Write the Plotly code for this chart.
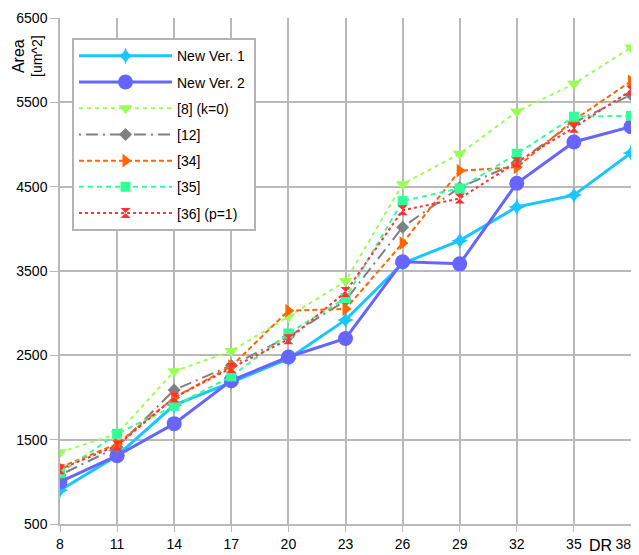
import plotly.graph_objects as go

dr = [8, 11, 14, 17, 20, 23, 26, 29, 32, 35, 38]
dr_labels = ["8", "11", "14", "17", "20", "23", "26", "29", "32", "35", "38"]

new_ver1 = [900, 1310, 1910, 2180, 2460, 2920, 3590, 3860, 4260, 4400, 4900]
new_ver2 = [1000, 1310, 1690, 2200, 2480, 2700, 3610, 3585, 4540, 5030, 5210]
ref8 = [1350, 1570, 2310, 2550, 2960, 3380, 4530, 4890, 5390, 5720, 6150]
ref12 = [1080, 1410, 2090, 2380, 2720, 3150, 4020, 4490, 4780, 5260, 5590]
ref34 = [1170, 1450, 2000, 2370, 3030, 3050, 3830, 4690, 4730, 5290, 5750]
ref35 = [1105, 1570, 1900, 2250, 2760, 3180, 4330, 4480, 4890, 5330, 5340]
ref36 = [1150, 1430, 2000, 2350, 2690, 3250, 4220, 4360, 4790, 5200, 5640]

names = ["New Ver. 1", "New Ver. 2", "[8] (k=0)", "[12]", "[34]", "[35]", "[36] (p=1)"]
series = [new_ver1, new_ver2, ref8, ref12, ref34, ref35, ref36]
colors = ["#1ac6ff", "#6666ff", "#99ff55", "#808080", "#ff6600", "#33ff99", "#ff3333"]
symbols = ["star-diamond", "circle", "triangle-down", "diamond", "triangle-right", "square", "hourglass"]
msizes = [12, 15, 12, 10, 12, 10, 10]
widths = [3, 3, 2, 2, 2, 2, 2]
dashes = ["solid", "solid", "4px,4px", "2px,5px,12px,5px", "5px,3px", "5px,4px", "3px,3px"]

fig = go.Figure()
for i, (nm, ys) in enumerate(zip(names, series)):
    fig.add_trace(go.Scatter(
        x=dr, y=ys, name=nm + "\u00a0", mode="lines+markers",
        legendgroup="g%d" % i,
        line=dict(color=colors[i], width=widths[i], dash=dashes[i]),
        marker=dict(symbol=symbols[i], size=msizes[i], color=colors[i], line=dict(width=0)),
    ))

# keep the last tick label inside the visible window
tick_text = dr_labels[:-1] + [dr_labels[-1] + "\u00a0" * 4]

grid = "#b9b9b9"
# the page body adds an 8px offset, so the figure is sized to fit the window
fig.update_layout(
    width=631, height=547,
    margin=dict(l=52, r=8, t=10, b=31, autoexpand=False),
    paper_bgcolor="white", plot_bgcolor="white",
    font=dict(family="Liberation Sans, Arial, sans-serif", size=14, color="#000000"),
    showlegend=True,
    legend=dict(
        x=0.021, y=0.96, xanchor="left", yanchor="top",
        bgcolor="white", bordercolor="#b3b3b3", borderwidth=2,
        font=dict(size=14), tracegroupgap=5, traceorder="grouped",
        itemwidth=93,
    ),
    xaxis=dict(
        range=[8, 38], tickmode="array", tickvals=dr, ticktext=tick_text,
        showgrid=True, gridcolor=grid, gridwidth=1.5,
        showline=True, linecolor=grid, linewidth=1.5,
        ticks="outside", ticklen=6, tickcolor=grid, zeroline=False,
        automargin=False, ticklabeloverflow="allow",
    ),
    yaxis=dict(
        range=[500, 6500], tickvals=[500, 1500, 2500, 3500, 4500, 5500, 6500],
        showgrid=True, gridcolor=grid, gridwidth=1.5,
        showline=True, linecolor=grid, linewidth=1.5,
        ticks="outside", ticklen=8, tickcolor=grid, zeroline=False,
        automargin=False, ticklabeloverflow="allow",
    ),
    annotations=[
        dict(text="<span style='font-size:16px'>Area</span><br>[um^2]", textangle=-90,
             xref="paper", yref="paper", x=-0.056, y=0.925, xanchor="center", yanchor="middle",
             showarrow=False, font=dict(size=14)),
        dict(text="DR", xref="paper", yref="paper", x=0.946, y=-0.042,
             xanchor="center", yanchor="middle", showarrow=False, font=dict(size=16)),
    ],
)
fig.write_html("out.html")
